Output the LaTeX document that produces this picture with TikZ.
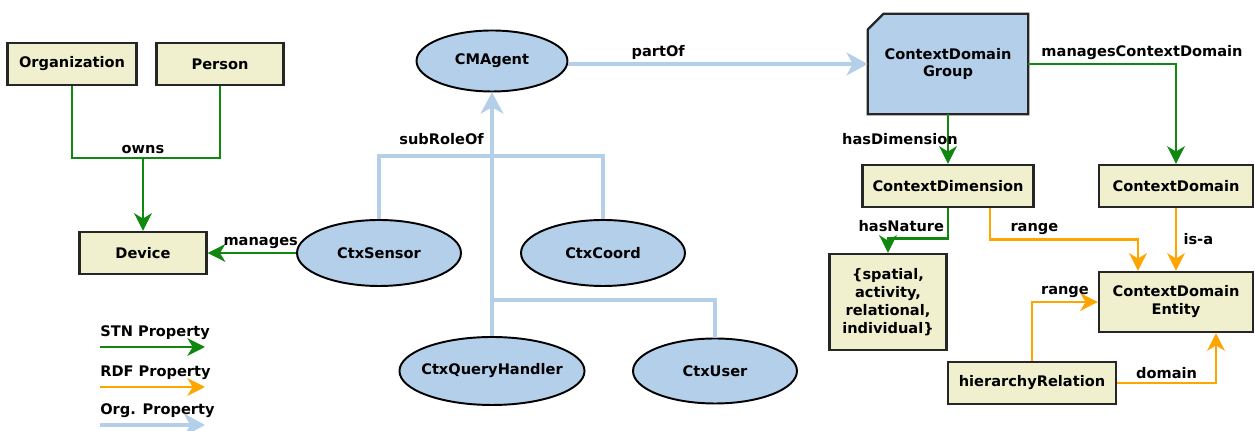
\documentclass[tikz,border=0pt]{standalone}
\usepackage{fontspec}
\setmainfont{DejaVu Sans}
\usetikzlibrary{shapes.geometric,arrows.meta,positioning,calc,backgrounds}
\definecolor{boxbeige}{RGB}{240,239,206}
\definecolor{roleblue}{RGB}{180,207,234}
\definecolor{stngreen}{RGB}{16,136,16}
\definecolor{rdforange}{RGB}{255,165,0}

\begin{document}
\begin{tikzpicture}[x=0.02cm, y=-0.02cm, font=\fontsize{8.3}{10.2}\selectfont\bfseries,
    cls/.style={draw=black!85, line width=1.3pt, fill=boxbeige, minimum height=0.84cm, inner sep=2pt, align=center},
    role/.style={ellipse, draw=black, line width=1.1pt, fill=roleblue, inner sep=1pt},
    stn/.style={draw=stngreen, line width=1.6pt},
    rdf/.style={draw=rdforange, line width=1.6pt},
    org/.style={draw=roleblue, line width=2.4pt},
    stnarr/.style={stn, -{Stealth[length=10pt,width=10pt,inset=3pt]}},
    rdfarr/.style={rdf, -{Stealth[length=10pt,width=10pt,inset=3pt]}},
    orgarr/.style={org, -{Stealth[length=12pt,width=13pt,inset=3.5pt]}},
    lbl/.style={inner sep=1.5pt}]
  \useasboundingbox (0,0) rectangle (1255,431);

  % owners
  \node[cls, minimum width=2.58cm] (org) at (72,64) {Organization};
  \node[cls, minimum width=2.54cm] (per) at (220,64) {Person};
  \node[cls, minimum width=2.54cm] (dev) at (143,253) {Device};

  % roles
  \node[role, minimum width=3.02cm, minimum height=1.22cm] (cma) at (492,61) {CMAgent};
  \node[role, minimum width=3.28cm, minimum height=1.32cm] (sen) at (379,253) {CtxSensor};
  \node[role, minimum width=3.28cm, minimum height=1.32cm] (cor) at (603,253) {CtxCoord};
  \node[role, inner xsep=-3pt, minimum width=3.64cm, minimum height=1.36cm] (qh) at (492,371) {CtxQueryHandler};
  \node[role, minimum width=3.28cm, minimum height=1.30cm] (usr) at (715,371) {CtxUser};

  % context domain
  \node[align=center, minimum width=3.2cm, minimum height=2cm] (cdg) at (948,64) {ContextDomain\\Group};
  \begin{scope}[on background layer]
    \draw[line width=1.3pt, draw=black!85, fill=roleblue] ($(cdg.north west)+(0,16)$) -- ($(cdg.north west)+(16,0)$)
      -- (cdg.north east) -- (cdg.south east) -- (cdg.south west) -- cycle;
  \end{scope}
  \node[cls, minimum width=3.42cm] (cdim) at (948,186) {ContextDimension};
  \node[cls, minimum width=3.08cm] (cdom) at (1176,186) {ContextDomain};
  \node[cls, minimum width=2.34cm, minimum height=1.92cm] (nat) at (888,302) {\{spatial,\\activity,\\relational,\\individual\}};
  \node[cls, minimum width=3.08cm, minimum height=1.2cm] (cde) at (1176,302) {ContextDomain\\Entity};
  \node[cls, minimum width=3.36cm] (hier) at (1032,383) {hierarchyRelation};

  % STN properties
  \coordinate (owns) at (143,158);
  \draw[stn] (org.south) |- (owns) -| (per.south);
  \draw[stnarr] (owns) node[lbl, above] {owns} -- (dev.north);
  \draw[stnarr] (sen.west) -- node[lbl, above, pos=0.4] {manages} (dev.east);
  \draw[stnarr] (cdg.south) -- node[lbl, xshift=-0.96cm] {hasDimension} (cdim.north);
  \draw[stnarr] (cdg.east) -| node[lbl, above, pos=0.385] {managesContextDomain} (cdom.north);
  \draw[stnarr] (cdim.south) -- node[lbl, left, pos=0.6] {hasNature} ++(0,30) -| (nat.north);

  % RDF properties
  \draw[rdfarr] ($(cdim.south)+(42,0)$) -- ++(0,31) -| node[lbl, above, pos=0.15] {range} ($(cde.north)+(-38,0)$);
  \draw[rdfarr] (cdom.south) -- node[lbl, right, xshift=2pt] {is-a} (cde.north);
  \draw[rdfarr] (hier.north) |- node[lbl, above, pos=0.75] {range} (cde.west);
  \draw[rdfarr] (hier.east) -| node[lbl, above, pos=0.25] {domain} ($(cde.south)+(40,0)$);

  % role hierarchy
  \coordinate (sub) at (492,156);
  \coordinate (sub2) at (492,300);
  \draw[org] (sen.north) |- (sub) -| (cor.north);
  \draw[org] (usr.north) |- (sub2);
  \draw[orgarr] (qh.north) -- (cma.south);
  \node[lbl, above left, xshift=-3pt, yshift=5pt] at (sub) {subRoleOf};
  \draw[orgarr] (cma.east |- cdg.west) -- node[lbl, above, pos=0.3] {partOf} (cdg.west);

  % legend
  \node[anchor=west, inner sep=0pt] (lstn) at (100,333) {STN Property};
  \node[anchor=west, inner sep=0pt] (lrdf) at (100,373) {RDF Property};
  \node[anchor=west, inner sep=0pt] (lorg) at (100,411) {Org. Property};
  \draw[stnarr] (100,347) coordinate (lstnA) -- (205,347) coordinate (lstnB);
  \draw[rdfarr] (100,387) coordinate (lrdfA) -- (205,387) coordinate (lrdfB);
  \draw[orgarr] (100,425) coordinate (lorgA) -- (205,425) coordinate (lorgB);
\end{tikzpicture}
\end{document}
